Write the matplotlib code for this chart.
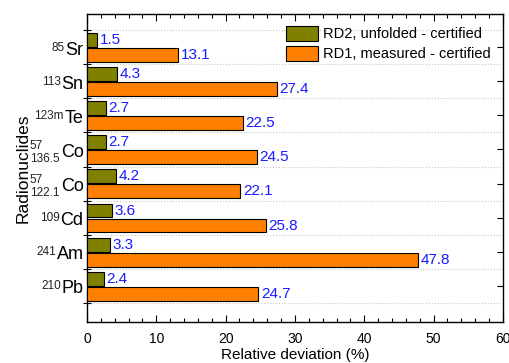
import matplotlib
matplotlib.use("Agg")
import matplotlib.pyplot as plt
import numpy as np
from matplotlib.ticker import MultipleLocator
from matplotlib.offsetbox import TextArea, HPacker, VPacker, AnnotationBbox

plt.rcParams['font.family'] = ['Liberation Sans', 'DejaVu Sans']

mass_numbers = ['85', '113', '123m', '57', '57', '109', '241', '210']
energies = ['', '', '', '136.5', '122.1', '', '', '']
elements = ['Sr', 'Sn', 'Te', 'Co', 'Co', 'Cd', 'Am', 'Pb']
rd2_unfolded = [1.5, 4.3, 2.7, 2.7, 4.2, 3.6, 3.3, 2.4]
rd1_measured = [13.1, 27.4, 22.5, 24.5, 22.1, 25.8, 47.8, 24.7]
series_names = ['RD2, unfolded - certified', 'RD1, measured - certified']

green = '#808000'
orange = '#FF8000'

fig = plt.figure(figsize=(5.1, 3.63), dpi=100)
ax = fig.add_axes([0.1706, 0.113, 0.986 - 0.1706, 0.961 - 0.113])

n = len(elements)
centers = np.arange(n) + 0.5
h = 0.41
ax.barh(centers - 0.21, rd2_unfolded, height=h, color=green, edgecolor='black', linewidth=0.8,
        label=series_names[0], zorder=3)
ax.barh(centers + 0.23, rd1_measured, height=h, color=orange, edgecolor='black', linewidth=0.8,
        label=series_names[1], zorder=3)

for c, v in zip(centers, rd2_unfolded):
    ax.text(v + 0.4, c - 0.21, f'{v}', color='#1a1aff', fontsize=11, va='center', ha='left', zorder=4)
for c, v in zip(centers, rd1_measured):
    ax.text(v + 0.4, c + 0.23, f'{v}', color='#1a1aff', fontsize=11, va='center', ha='left', zorder=4)

ax.set_xlim(0, 60)
ax.set_ylim(8.56, -0.47)

ax.xaxis.set_major_locator(MultipleLocator(10))
ax.xaxis.set_minor_locator(MultipleLocator(2))
ax.tick_params(axis='x', which='major', direction='in', length=5, top=True, bottom=True,
               labelsize=10, width=0.8, pad=7)
ax.tick_params(axis='x', which='minor', direction='in', length=3, top=True, bottom=True, width=0.8)

ax.set_yticks(np.arange(n + 1))
ax.set_yticklabels([])
ax.set_yticks(centers, [''] * n, minor=True)
ax.tick_params(axis='y', which='major', direction='inout', length=6, left=True, right=False, width=0.8)
ax.tick_params(axis='y', which='minor', left=False, right=True, direction='in', length=4, width=0.8)

# nuclide labels with superscript mass numbers and subscript energies
small = dict(size=8.5, color='#222222')
big = dict(size=13, color='black')
for c, a, e, el in zip(centers, mass_numbers, energies, elements):
    main = TextArea(el, textprops=big)
    if e:
        left = VPacker(children=[TextArea(a, textprops=small), TextArea(e, textprops=small)],
                       pad=0, sep=1, align='left')
        box = HPacker(children=[left, main], pad=0, sep=1, align='center')
    else:
        left = TextArea(a, textprops=small)
        box = HPacker(children=[left, main], pad=0, sep=0.5, align='top')
    ab = AnnotationBbox(box, xy=(0, c), xycoords=('axes fraction', 'data'),
                        xybox=(-2.5, -2.0), boxcoords='offset points', box_alignment=(1, 0.5),
                        frameon=False, pad=0, annotation_clip=False)
    ax.add_artist(ab)

ax.grid(axis='y', which='major', linestyle=':', color='#c8c8c8', linewidth=0.8, zorder=0)
for s in ax.spines.values():
    s.set_linewidth(1.0)

ax.set_xlabel('Relative deviation (%)', fontsize=11, labelpad=2)
ax.set_ylabel('Radionuclides', fontsize=12.5)
ax.yaxis.set_label_coords(-0.135, 0.5)

ax.legend(loc='upper right', bbox_to_anchor=(1.0, 1.0), frameon=False, fontsize=10.5,
          handlelength=2.2, handleheight=1.2, handletextpad=0.4, labelspacing=0.3,
          borderaxespad=0.4)

fig.savefig('out.png', dpi=100)
